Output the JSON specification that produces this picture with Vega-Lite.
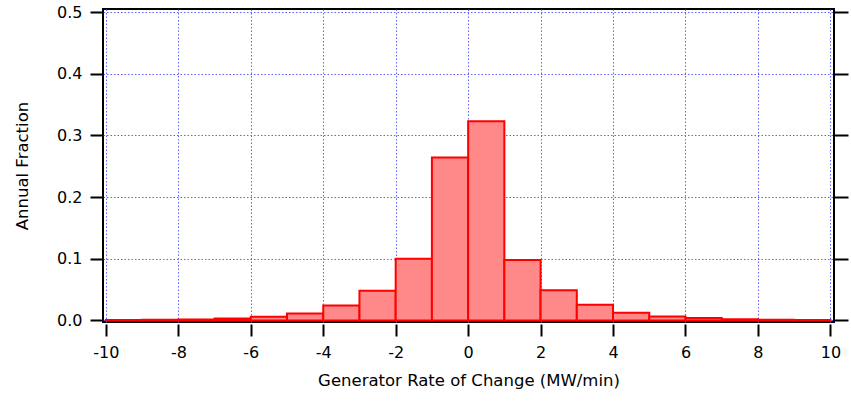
{
  "$schema": "https://vega.github.io/schema/vega-lite/v6.json",
  "autosize": "none",
  "width": 731,
  "height": 313,
  "padding": {"left": 103, "top": 9, "right": 17, "bottom": 80},
  "background": "white",
  "config": {
    "view": {"stroke": "black", "strokeWidth": 2},
    "font": "DejaVu Sans",
    "axis": {
      "labelFont": "DejaVu Sans",
      "titleFont": "DejaVu Sans",
      "labelFontSize": 16,
      "titleFontSize": 16.5,
      "titleFontWeight": "normal",
      "labelColor": "black",
      "titleColor": "black",
      "tickColor": "black",
      "tickWidth": 2,
      "gridColor": "#6060ff",
      "gridDash": [1.5, 2],
      "gridWidth": 1,
      "gridOpacity": 1
    }
  },
  "data": {
    "values": [
      {"lo": -10, "hi": -9, "frac": 0.0005},
      {"lo": -9, "hi": -8, "frac": 0.0012},
      {"lo": -8, "hi": -7, "frac": 0.0015},
      {"lo": -7, "hi": -6, "frac": 0.003},
      {"lo": -6, "hi": -5, "frac": 0.006},
      {"lo": -5, "hi": -4, "frac": 0.011},
      {"lo": -4, "hi": -3, "frac": 0.024},
      {"lo": -3, "hi": -2, "frac": 0.048},
      {"lo": -2, "hi": -1, "frac": 0.100},
      {"lo": -1, "hi": 0, "frac": 0.264},
      {"lo": 0, "hi": 1, "frac": 0.323},
      {"lo": 1, "hi": 2, "frac": 0.098},
      {"lo": 2, "hi": 3, "frac": 0.049},
      {"lo": 3, "hi": 4, "frac": 0.0255},
      {"lo": 4, "hi": 5, "frac": 0.0125},
      {"lo": 5, "hi": 6, "frac": 0.0065},
      {"lo": 6, "hi": 7, "frac": 0.004},
      {"lo": 7, "hi": 8, "frac": 0.002},
      {"lo": 8, "hi": 9, "frac": 0.0012},
      {"lo": 9, "hi": 10, "frac": 0.0005}
    ]
  },
  "layer": [
    {
      "mark": {"type": "bar", "fill": "#ff8888", "stroke": "#ff0000", "strokeWidth": 2},
      "encoding": {
        "x": {
          "field": "lo", "type": "quantitative",
          "scale": {"domain": [-10.08, 10.1], "nice": false, "zero": false},
          "axis": {
            "values": [-10, -8, -6, -4, -2, 0, 2, 4, 6, 8, 10],
            "gridValues": [-8, -6, -4, -2, 0, 2, 4, 6, 8],
            "labelExpr": "'' + datum.value",
            "domain": false, "offset": 2, "tickSize": 12,
            "labelPadding": 8,
            "title": "Generator Rate of Change (MW/min)",
            "titlePadding": 12
          }
        },
        "x2": {"field": "hi"},
        "y": {
          "field": "frac", "type": "quantitative",
          "scale": {"domain": [-0.0026, 0.5049], "nice": false, "zero": false},
          "axis": {
            "values": [0, 0.1, 0.2, 0.3, 0.4, 0.5],
            "gridValues": [0.1, 0.2, 0.3, 0.4],
            "format": ".1f", "domain": false, "tickSize": 13,
            "labelPadding": 8,
            "title": "Annual Fraction",
            "titlePadding": 26
          }
        },
        "y2": {"datum": 0}
      }
    },
    {
      "mark": {"type": "rule", "opacity": 0},
      "encoding": {
        "y": {
          "field": "frac", "type": "quantitative",
          "axis": {
            "orient": "right",
            "values": [0, 0.1, 0.2, 0.3, 0.4, 0.5],
            "labels": false, "domain": false, "grid": false,
            "tickSize": 14, "title": null
          }
        }
      }
    }
  ],
  "resolve": {"axis": {"y": "independent"}}
}
